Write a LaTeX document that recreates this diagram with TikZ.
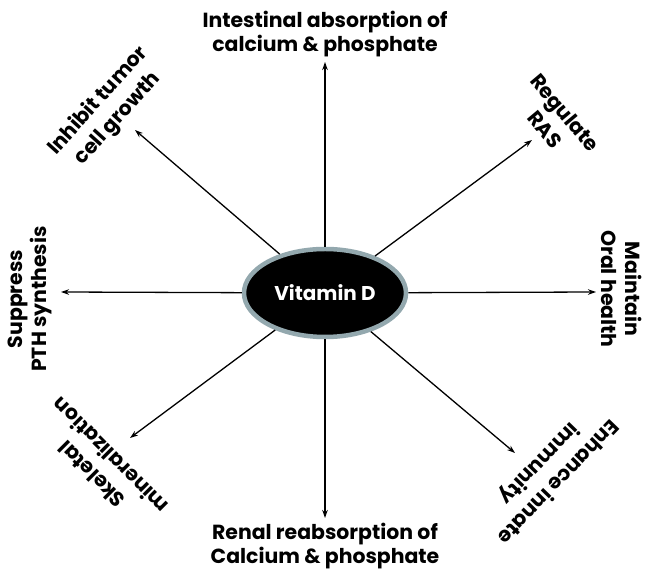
\documentclass[tikz,border=0pt]{standalone}
\usepackage{fontspec}
\setmainfont{Poppins}
\usetikzlibrary{shapes.geometric,arrows.meta}
\definecolor{rimgray}{HTML}{93A8AE}
\begin{document}
\begin{tikzpicture}[x=1bp,y=1bp,
  lbl/.style={font=\bfseries\fontsize{20.5}{24}\selectfont, align=center, inner sep=0pt},
  dlbl/.style={font=\bfseries\fontsize{20.5}{26.5}\selectfont, align=center, inner sep=0pt},
  spoke/.style={-{Stealth[length=8bp,width=5.5bp]}, line width=1.3bp}]
\useasboundingbox (0,0) rectangle (647,571);
\node[ellipse, fill=black, draw=rimgray, line width=4.5bp, minimum width=162bp, minimum height=88bp, inner sep=0pt,
      text=white, font=\bfseries\fontsize{20}{24}\selectfont] (vd) at (325,278) {Vitamin D};
% arrow ends
\coordinate (tUp) at (325,509);
\coordinate (tDown) at (325,53);
\coordinate (tLeft) at (61,279);
\coordinate (tRight) at (596,279);
\coordinate (tUL) at (135,441);
\coordinate (tUR) at (532,431);
\coordinate (tLL) at (130,133);
\coordinate (tLR) at (515,118);
\foreach \t in {tUp,tDown,tLeft,tRight,tUL,tUR,tLL,tLR} \draw[spoke] (vd) -- (\t);
% labels
\node[lbl] (lUp) at (325,537) {Intestinal absorption of\\calcium \& phosphate};
\node[lbl] (lDown) at (325,25) {Renal reabsorption of\\Calcium \& phosphate};
\node[lbl, rotate=90] (lLeft) at (30,272) {Suppress\\PTH synthesis};
\node[lbl, rotate=-90] (lRight) at (622,282) {Maintain\\Oral health};
\node[dlbl, rotate=48] (lUL) at (108,461) {Inhibit tumor\\cell growth};
\node[dlbl, rotate=-50] (lUR) at (555,450) {Regulate\\RAS};
\node[dlbl, rotate=135] (lLL) at (101,106) {Skeletal\\mineralization};
\node[dlbl, rotate=-134] (lLR) at (548,99) {Enhance innate\\immunity};
\end{tikzpicture}
\end{document}
